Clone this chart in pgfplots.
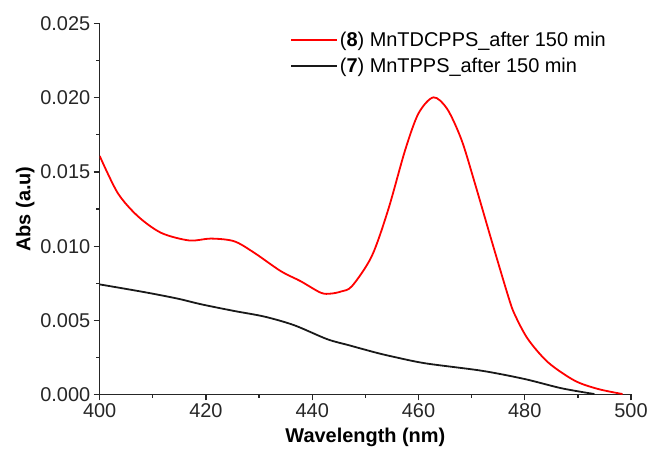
\documentclass[border=0pt]{standalone}
\usepackage{pgfplots}
\pgfplotsset{compat=1.18}
\usepackage{fontspec}
\setmainfont{Liberation Sans}

\pgfplotstableread{
x y
400 0.01608
403.4 0.01358
407.2 0.01201
411.6 0.01089
416.9 0.01038
420.9 0.01051
425.3 0.01033
429.1 0.00955
434.1 0.00831
437.8 0.00764
441.6 0.00686
443.5 0.00680
445.5 0.00695
447.5 0.00731
451.2 0.00932
454.3 0.01246
457.5 0.01649
460 0.01895
462.8 0.02003
465.4 0.01925
468.1 0.01716
470.6 0.01425
473.7 0.01044
476.9 0.00660
478.1 0.00540
480.6 0.00373
484.4 0.00216
489.4 0.00093
493.8 0.00037
498.4 0.00003
}\redtab

\pgfplotstableread{
x y
400 0.00742
408.4 0.00690
414.7 0.00646
419.1 0.00608
425.3 0.00563
431 0.00525
436.6 0.00467
442.8 0.00373
446.9 0.00332
451.9 0.00283
455.3 0.00254
461.3 0.00210
471.9 0.00160
480 0.00104
486.9 0.00042
493.1 0.00003
}\blacktab

\begin{document}
\begin{tikzpicture}
\begin{axis}[
    scale only axis,
    width=533pt, height=372pt,
    xmin=400, xmax=500,
    ymin=0, ymax=0.025,
    axis x line=bottom, axis y line=left,
    axis line style={-, line width=1.2pt, black!85},
    tick align=outside,
    major tick length=6pt, minor tick length=3.5pt,
    every tick/.style={line width=1.2pt, black!85},
    xtick={400,420,...,500},
    minor x tick num=1,
    ytick={0,0.005,...,0.025},
    minor y tick num=1,
    scaled y ticks=false,
    yticklabel style={/pgf/number format/.cd, fixed, fixed zerofill, precision=3},
    /pgf/number format/assume math mode=true,
    tick label style={font=\fontsize{20}{22}\selectfont, black!85},
    xlabel={\bfseries Wavelength (nm)},
    ylabel={\bfseries Abs (a.u)},
    label style={font=\fontsize{20}{22}\selectfont},
    xlabel style={yshift=-3pt},
    ylabel style={yshift=-1pt},
    legend style={draw=none, fill=none, at={(0.356,0.985)}, anchor=north west,
        font=\fontsize{20}{22}\selectfont, row sep=6pt, inner sep=1pt},
    legend cell align=left,
    legend image code/.code={\draw[#1, line width=2pt] (0pt,0pt) -- (46pt,0pt);},
]
\addplot[red, line width=1.8pt, smooth, tension=0.5] table {\redtab};
\addlegendentry{(\textbf{8}) MnTDCPPS\_after 150 min}
\addplot[black!90, line width=1.8pt, smooth, tension=0.5] table {\blacktab};
\addlegendentry{(\textbf{7}) MnTPPS\_after 150 min}
\end{axis}
\path[use as bounding box] (-100pt,-54.5pt) rectangle (551pt,395.7pt);
\end{tikzpicture}
\end{document}
